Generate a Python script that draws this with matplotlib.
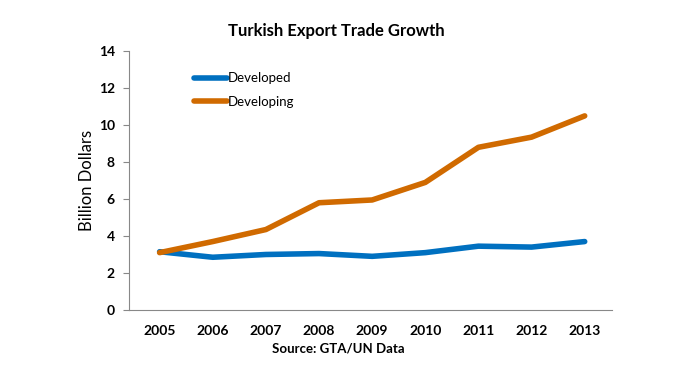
import numpy as np
import matplotlib.pyplot as plt

# data
years = ['2005', '2006', '2007', '2008', '2009', '2010', '2011', '2012', '2013']
developed = [3.15, 2.85, 3.0, 3.05, 2.9, 3.1, 3.45, 3.4, 3.7]
developing = [3.1, 3.7, 4.35, 5.8, 5.95, 6.9, 8.8, 9.35, 10.5]

plt.rcParams['font.family'] = ['Lato', 'DejaVu Sans']

fig = plt.figure(figsize=(7, 3.85), dpi=100)
ax = fig.add_axes([0.184, 0.195, 0.69, 0.672])

x = np.arange(len(years))
ax.plot(x, developed, color='#0070C0', lw=4, solid_capstyle='round', label='Developed')
ax.plot(x, developing, color='#D06A00', lw=4, solid_capstyle='round', label='Developing')

ax.set_xlim(-0.58, len(years) - 0.49)
ax.set_ylim(0, 14)
ax.set_yticks(range(0, 15, 2))
ax.set_xticks(x)
ax.set_xticklabels(years, fontweight='bold', fontsize=10)
for lab in ax.get_yticklabels():
    lab.set_fontweight('bold')
    lab.set_fontsize(10)

for s in ['top', 'right']:
    ax.spines[s].set_visible(False)
ax.spines['left'].set_color('#888888')
ax.spines['bottom'].set_color('#888888')
ax.tick_params(axis='x', length=0, pad=11)
ax.tick_params(axis='y', length=4, color='#888888', pad=6)

ax.set_ylabel('Billion Dollars', fontsize=12, labelpad=3)
fig.text(0.481, 0.92, 'Turkish Export Trade Growth', ha='center', va='center',
         fontsize=12, fontweight='bold')
fig.text(0.483, 0.085, 'Source: GTA/UN Data', ha='center', fontsize=9.5, fontweight='bold')

ax.legend(loc='upper left', bbox_to_anchor=(0.11, 0.965), frameon=False,
          handlelength=2.5, handletextpad=0.1, labelspacing=0.9, fontsize=9.5)

fig.savefig('out.png', dpi=100)
